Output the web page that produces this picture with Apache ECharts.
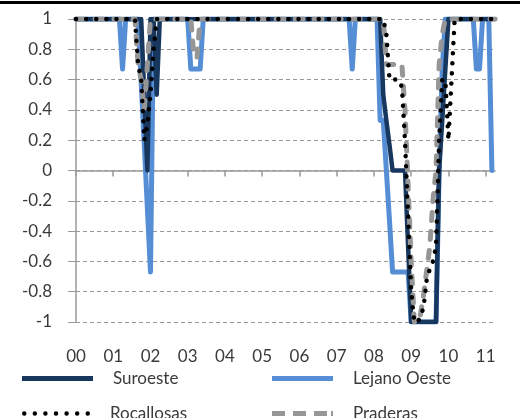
<!DOCTYPE html>
<html>
<head>
<meta charset="utf-8">
<script src="https://cdn.jsdelivr.net/npm/echarts@6/dist/echarts.min.js"></script>
<style>
html,body{margin:0;padding:0;background:#fff;}
#chart{width:525px;height:418px;}
</style>
</head>
<body>
<div id="chart"></div>
<script>
// Year tick labels (one category per month, Jan 2000 .. Apr 2011)
const yearLabels = ['00','01','02','03','04','05','06','07','08','09','10','11'];
const monthCount = 136;
const categories = [];
for (let i = 0; i < monthCount; i++) {
  categories.push('20' + yearLabels[Math.floor(i / 12)] + '-' + String(i % 12 + 1).padStart(2, '0'));
}

// Series values (one row per year)
const suroeste = [
  1,1,1,1,1,1,1,1,1,1,1,1,
  1,1,1,1,1,1,1,1,1,1,0.5,0,
  1,1,0.5,1,1,1,1,1,1,1,1,1,
  1,1,1,1,1,1,1,1,1,1,1,1,
  1,1,1,1,1,1,1,1,1,1,1,1,
  1,1,1,1,1,1,1,1,1,1,1,1,
  1,1,1,1,1,1,1,1,1,1,1,1,
  1,1,1,1,1,1,1,1,1,1,1,1,
  1,1,1,0.5,0.33,0.17,0,0,0,0,0,-0.5,
  -1,-1,-1,-1,-1,-1,-1,-1,-1,0,0.33,0.67,
  1,1,1,1,1,1,1,1,1,1,1,1,
  1,1,1,1
];
const lejanoOeste = [
  1,1,1,1,1,1,1,1,1,1,1,1,
  1,1,1,0.67,1,1,1,1,1,0.58,0.17,-0.25,
  -0.67,1,1,1,1,1,1,1,1,1,1,1,
  1,0.67,0.67,0.67,0.67,1,1,1,1,1,1,1,
  1,1,1,1,1,1,1,1,1,1,1,1,
  1,1,1,1,1,1,1,1,1,1,1,1,
  1,1,1,1,1,1,1,1,1,1,1,1,
  1,1,1,1,1,0.67,1,1,1,1,1,1,
  1,1,0.33,0.33,0,-0.33,-0.67,-0.67,-0.67,-0.67,-0.67,-0.67,
  -1,-1,-1,-1,-1,-1,-1,-1,-1,0,0.67,1,
  1,1,1,1,1,1,1,1,1,0.67,0.67,1,
  1,1,0,null
];
const rocallosas = [
  1,1,1,1,1,1,1,1,1,1,1,1,
  1,1,1,1,1,1,1,1,0.7,0.6,0.2,0.3,
  0.5,0.8,1,1,1,1,1,1,1,1,1,1,
  1,1,1,1,1,1,1,1,1,1,1,1,
  1,1,1,1,1,1,1,1,1,1,1,1,
  1,1,1,1,1,1,1,1,1,1,1,1,
  1,1,1,1,1,1,1,1,1,1,1,1,
  1,1,1,1,1,1,1,1,1,1,1,1,
  1,1,1,1,0.9,0.6,0.6,0.6,0.6,0.55,0.2,-0.3,
  -0.8,-1,-1,-0.97,-0.9,-0.72,-0.65,-0.6,-0.5,0.2,0.6,0.6,
  0.2,0.6,1,1,1,1,1,1,1,1,1,1,
  1,1,1,1
];
const praderas = [
  1,1,1,1,1,1,1,1,1,1,1,1,
  1,1,1,1,1,1,1,1,0.7,0.6,0.4,0.7,
  1,1,1,1,1,1,1,1,1,1,1,1,
  1,1,0.75,0.75,1,1,1,1,1,1,1,1,
  1,1,1,1,1,1,1,1,1,1,1,1,
  1,1,1,1,1,1,1,1,1,1,1,1,
  1,1,1,1,1,1,1,1,1,1,1,1,
  1,1,1,1,1,1,1,1,1,1,1,1,
  1,1,1,1,0.7,0.7,0.7,0.7,0.7,0.7,0.4,-0.1,
  -0.6,-1,-1,-0.95,-0.82,-0.66,-0.5,-0.2,0,0.7,0.9,1,
  1,1,1,1,1,1,1,1,1,1,1,1,
  1,1,1,1
];
const seriesNames = ['Suroeste','Lejano Oeste','Rocallosas','Praderas'];

const FONT = 'Lato';
const TXT = '#3a3a3a';
const isYearStart = (idx) => idx % 12 === 0;

// Legend icon shapes (line samples)
function dotsPath(w, d, n) {
  const r = d / 2, step = (w - d) / (n - 1);
  let p = 'path://';
  for (let k = 0; k < n; k++) {
    const cx = r + k * step;
    p += 'M' + (cx - r) + ',' + r + 'a' + r + ',' + r + ' 0 1,0 ' + d + ',0a' + r + ',' + r + ' 0 1,0 ' + (-d) + ',0Z';
  }
  return p;
}
const iconSolid = (w, h) => 'path://M0,0H' + w + 'V' + h + 'H0Z';
const iconDashes = 'path://M0,0H13V5H0ZM21,0H34V5H21ZM42,0H55V5H42ZM59,0H61V5H59Z';

function legendFor(name, left, top, width, height, icon) {
  return {
    data: [{ name: name, icon: icon }], left: left, top: top, padding: 0,
    itemWidth: width, itemHeight: height, itemGap: 0,
    selectedMode: false,
    textStyle: { fontFamily: FONT, fontSize: 17, color: TXT, padding: [11, 0, 0, 15] }
  };
}

const chart = echarts.init(document.getElementById('chart'), null, { renderer: 'canvas' });
chart.setOption({
  animation: false,
  backgroundColor: '#ffffff',
  textStyle: { fontFamily: FONT },
  graphic: [{
    type: 'rect', left: 0, top: 1, silent: true,
    shape: { width: 520, height: 3 }, style: { fill: '#000000' }
  }],
  grid: { left: 76, right: 30, top: 19, bottom: 96, containLabel: false },
  legend: [
    legendFor(seriesNames[0], 22, 370, 71, 5, iconSolid(71, 5)),
    legendFor(seriesNames[1], 272, 370, 61, 5, iconSolid(61, 5)),
    legendFor(seriesNames[2], 22, 405, 68, 4.5, dotsPath(68, 4.5, 7)),
    legendFor(seriesNames[3], 272, 405, 61, 5, iconDashes)
  ],
  xAxis: [{
    type: 'category', data: categories, boundaryGap: false,
    axisLine: { onZero: true, lineStyle: { color: '#999999', width: 1.5 } },
    axisTick: { show: true, interval: isYearStart, length: 6, lineStyle: { color: '#999999', width: 1.5 } },
    axisLabel: { show: false },
    splitLine: { show: false }
  }, {
    type: 'category', data: categories, boundaryGap: false, position: 'bottom',
    axisLine: { show: false, onZero: false },
    axisTick: { show: false },
    axisLabel: {
      interval: isYearStart, margin: 26,
      fontFamily: FONT, fontSize: 17, color: TXT,
      formatter: (v, idx) => yearLabels[Math.floor(idx / 12)]
    },
    splitLine: { show: false }
  }],
  yAxis: {
    type: 'value', min: -1, max: 1, interval: 0.2,
    axisLine: { show: true, lineStyle: { color: '#999999', width: 1.5 } },
    axisTick: { show: true, length: 8, lineStyle: { color: '#999999', width: 1 } },
    axisLabel: {
      margin: 24, fontFamily: FONT, fontSize: 17, color: TXT,
      formatter: (v) => String(Math.round(v * 10) / 10)
    },
    splitLine: { show: true, lineStyle: { color: '#999999', width: 1, type: [4, 3] } }
  },
  series: [{
    name: seriesNames[0], type: 'line', data: suroeste, symbol: 'none', z: 3,
    lineStyle: { color: '#17375E', width: 4.5, join: 'round', cap: 'round' },
    itemStyle: { color: '#17375E' }
  }, {
    name: seriesNames[1], type: 'line', data: lejanoOeste, symbol: 'none', z: 2,
    lineStyle: { color: '#558ED5', width: 5, join: 'round', cap: 'round' },
    itemStyle: { color: '#558ED5' }
  }, {
    name: seriesNames[2], type: 'line', data: rocallosas, symbol: 'none', z: 5,
    lineStyle: { color: '#000000', width: 4.5, type: [0.1, 10], cap: 'round', join: 'round' },
    itemStyle: { color: '#000000' }
  }, {
    name: seriesNames[3], type: 'line', data: praderas, symbol: 'none', z: 4,
    lineStyle: { color: '#969696', width: 5, type: [8, 11], cap: 'round', join: 'round' },
    itemStyle: { color: '#969696' }
  }]
});
</script>
</body>
</html>
